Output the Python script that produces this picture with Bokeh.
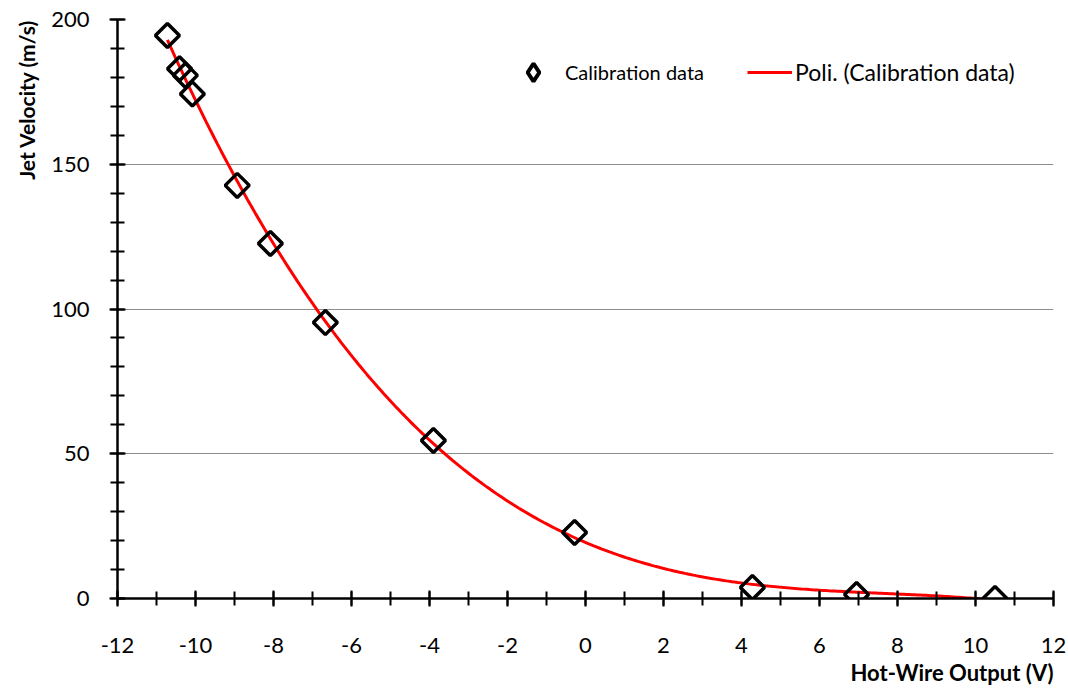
import numpy as np
from bokeh.plotting import figure
from bokeh.models import (Range1d, SingleIntervalTicker, Legend, LegendItem, Title,
                          CustomJSTickFormatter)
from bokeh.embed import file_html
from bokeh.resources import INLINE

# Calibration data
voltage = [-10.72, -10.41, -10.26, -10.08, -8.93, -8.08, -6.67, -3.90, -0.28, 4.28, 6.95, 10.50]
velocity = [194.5, 183.0, 180.7, 174.3, 142.7, 122.6, 95.3, 54.6, 22.8, 3.8, 1.4, 0.0]
poly_order = 3

x_ticks_interval = 2
y_ticks_interval = 50

FONT = "Lato"

p = figure(width=1068, height=694, output_backend="svg", toolbar_location=None,
           x_range=Range1d(-12, 12), y_range=Range1d(0, 200),
           min_border_left=117, min_border_right=15, min_border_top=19, min_border_bottom=96)
p.outline_line_color = None
p.background_fill_color = "white"
p.border_fill_color = "white"

# Trend line (polynomial fit of the calibration data, like the spreadsheet trendline)
coef = np.polyfit(voltage, velocity, poly_order)
xs = np.linspace(min(voltage), max(voltage), 300)
ys = np.polyval(coef, xs)

ln = p.line(xs, ys, line_color="#ff0000", line_width=3)
pts = p.scatter(voltage, velocity, marker="square", size=17, angle=np.pi / 4,
                fill_color="white", fill_alpha=0, line_color="black", line_width=3.5)
# legend swatch (diamond shape); NaN point so that nothing is drawn in the plot
leg_pts = p.scatter(x=[np.nan], y=[np.nan], marker="diamond", fill_alpha=0,
                    line_color="black", line_width=4)

# Axes
fmt = CustomJSTickFormatter(code="return String(tick);")
p.xaxis.ticker = SingleIntervalTicker(interval=x_ticks_interval, num_minor_ticks=2)
p.yaxis.ticker = SingleIntervalTicker(interval=y_ticks_interval, num_minor_ticks=5)
for ax in (p.xaxis, p.yaxis):
    ax.formatter = fmt
    ax.axis_line_color = "black"
    ax.axis_line_width = 2.5
    ax.major_tick_line_color = "black"
    ax.minor_tick_line_color = "black"
    ax.major_tick_line_width = 2
    ax.minor_tick_line_width = 2
    ax.major_tick_in = 8
    ax.major_tick_out = 8
    ax.minor_tick_in = 7
    ax.minor_tick_out = 7
    ax.major_label_text_font = FONT
    ax.major_label_text_font_size = "22px"
    ax.major_label_text_color = "black"
p.xaxis.major_label_standoff = 31
p.yaxis.major_label_standoff = 20

p.xgrid.grid_line_color = None
p.ygrid.grid_line_color = "#8c8c8c"
p.ygrid.grid_line_width = 1.2

# Axis titles
ty = Title(text="Jet Velocity (m/s)", align="right", text_font=FONT,
           text_font_size="21px", text_font_style="bold", text_color="black",
           standoff=20, offset=0)
p.add_layout(ty, "left")
tx = Title(text="Hot-Wire Output (V)", align="right", text_font=FONT,
           text_font_size="22px", text_font_style="bold", text_color="black",
           standoff=2, offset=0)
p.add_layout(tx, "below")

# Legends
leg1 = Legend(items=[LegendItem(label="Calibration data", renderers=[leg_pts])],
              location=(394, 504), orientation="horizontal",
              glyph_width=44, glyph_height=44, label_standoff=10,
              padding=0, margin=0, spacing=0, border_line_color=None,
              background_fill_alpha=0, label_text_font=FONT,
              label_text_font_size="20px", label_text_color="black")
leg2 = Legend(items=[LegendItem(label="Poli. (Calibration data)", renderers=[ln])],
              location=(630, 512), orientation="horizontal",
              glyph_width=45, glyph_height=24, label_standoff=3,
              padding=0, margin=0, spacing=0, border_line_color=None,
              background_fill_alpha=0, label_text_font=FONT,
              label_text_font_size="23px", label_text_color="black")
p.add_layout(leg1, "center")
p.add_layout(leg2, "center")

open("out.html", "w").write(file_html(p, INLINE))
